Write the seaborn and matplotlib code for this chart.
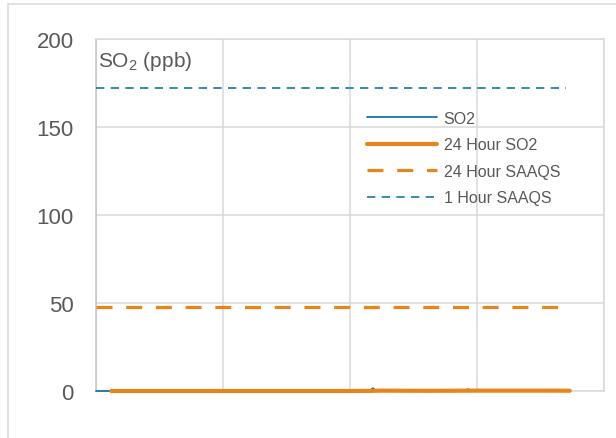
import matplotlib
matplotlib.use("Agg")
import matplotlib.pyplot as plt
import matplotlib.patches as patches
import pandas as pd
import seaborn as sns

# hours since start of month
so2_hours = [0, 48, 120, 200, 280, 360, 420, 432, 436, 440, 460, 520, 580, 586, 592, 650, 700, 744]
so2_ppb = [0.0, 0.0, 0.0, 0.0, 0.0, 0.0, 0.1, 0.3, 1.6, 0.4, 0.2, 0.1, 0.3, 1.0, 0.3, 0.2, 0.3, 0.2]

avg24_hours = [24, 100, 200, 300, 400, 430, 450, 480, 520, 560, 600, 640, 680, 720, 746]
avg24_ppb = [0.0, 0.0, 0.0, 0.0, 0.0, 0.05, 0.2, 0.15, 0.1, 0.15, 0.2, 0.2, 0.2, 0.2, 0.15]

saaqs_24h_hours = [0, 729]
saaqs_24h_ppb = [48, 48]
saaqs_1h_hours = [0, 740]
saaqs_1h_ppb = [172, 172]

BLUE = "#1675a6"
ORANGE = "#e8851a"
GREY_TXT = "#595959"
GRID = "#d9d9d9"

sns.set_theme(style="white")
plt.rcParams["font.family"] = ["Liberation Sans", "DejaVu Sans"]
plt.rcParams["mathtext.fontset"] = "custom"
plt.rcParams["mathtext.rm"] = "Liberation Sans"

fig = plt.figure(figsize=(6.16, 4.39), dpi=100)
ax = fig.add_axes([96 / 616, 1 - 392 / 439, (604 - 96) / 616, (392 - 40) / 439])

sns.lineplot(data=pd.DataFrame({"h": so2_hours, "v": so2_ppb}), x="h", y="v",
             ax=ax, color=BLUE, linewidth=1.3, label="SO2", clip_on=False, zorder=3)
sns.lineplot(data=pd.DataFrame({"h": avg24_hours, "v": avg24_ppb}), x="h", y="v",
             ax=ax, color=ORANGE, linewidth=3.0, label="24 Hour SO2", clip_on=False,
             zorder=3)
sns.lineplot(data=pd.DataFrame({"h": saaqs_24h_hours, "v": saaqs_24h_ppb}), x="h", y="v",
             ax=ax, color=ORANGE, linewidth=2.3, linestyle=(0, (5.0, 4.3)),
             label="24 Hour SAAQS", zorder=3)
sns.lineplot(data=pd.DataFrame({"h": saaqs_1h_hours, "v": saaqs_1h_ppb}), x="h", y="v",
             ax=ax, color=BLUE, linewidth=1.2, linestyle=(0, (5.0, 3.8)),
             label="1 Hour SAAQS", zorder=3)

ax.set_xlim(0, 800)
ax.set_ylim(0, 200)
ax.set_xticks([0, 200, 400, 600, 800])
ax.set_xticklabels([])
ax.set_yticks([0, 50, 100, 150, 200])
ax.tick_params(axis="x", length=0)
ax.tick_params(axis="y", length=0, pad=16, labelsize=16, labelcolor=GREY_TXT)
ax.grid(True, color=GRID, linewidth=1.1)
ax.set_axisbelow(True)
for side in ["top", "right", "bottom"]:
    ax.spines[side].set_color(GRID)
    ax.spines[side].set_linewidth(1.1)
ax.spines["left"].set_color("#c4c4c4")
ax.spines["left"].set_linewidth(1.1)
ax.set_xlabel("")
ax.set_ylabel("")

ax.legend(loc="upper left", bbox_to_anchor=(367 / 616, 1 - 112 / 439),
          bbox_transform=fig.transFigure, frameon=False, fontsize=11.5,
          labelcolor=GREY_TXT, handlelength=4.4, handletextpad=0.4,
          labelspacing=0.72, borderpad=0, borderaxespad=0)

fig.text(98 / 616, 1 - 67 / 439, r"SO$_\mathregular{2}$ (ppb)", fontsize=15,
         color=GREY_TXT, va="baseline", ha="left")

fig.patches.append(patches.Rectangle((8 / 616, -0.1), 2, 1.1 - 5 / 439,
                                     transform=fig.transFigure, fill=False,
                                     edgecolor=GRID, linewidth=1.1))

fig.savefig("out.png", dpi=100)
